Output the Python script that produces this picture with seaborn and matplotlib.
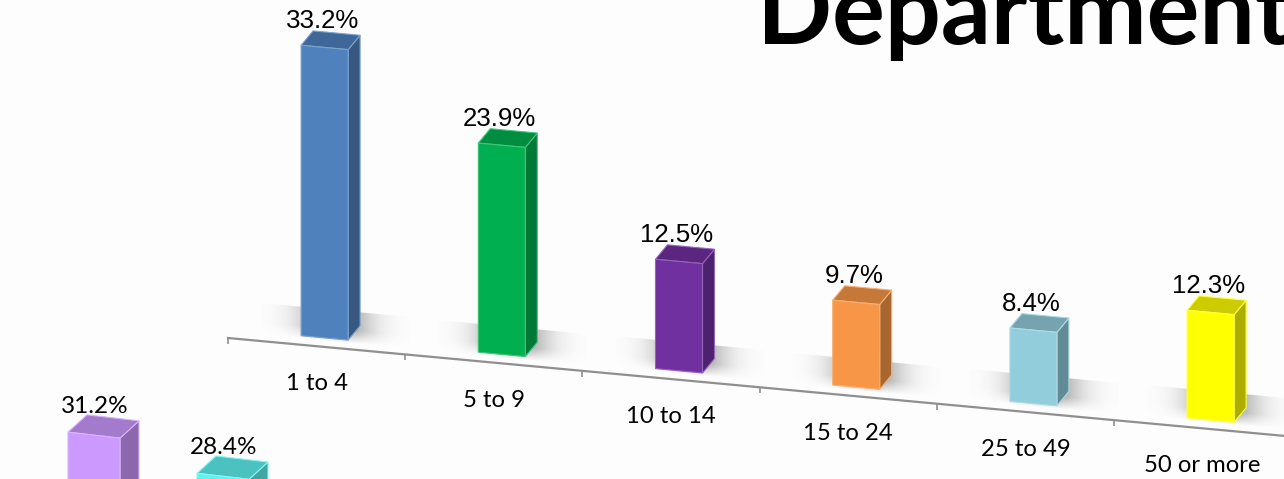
import numpy as np
import pandas as pd
import matplotlib
matplotlib.use("Agg")
import matplotlib.pyplot as plt
from matplotlib.patches import Polygon
from matplotlib.transforms import Affine2D
from matplotlib.colors import to_rgb
import seaborn as sns

# main chart
size_labels = ["1 to 4", "5 to 9", "10 to 14", "15 to 24", "25 to 49", "50 or more"]
size_values = [33.2, 23.9, 12.5, 9.7, 8.4, 12.3]
size_colors = ["#4F81BD", "#00B050", "#7030A0", "#F79646", "#92CDDC", "#FFFF00"]

# second chart, only the tops show at the bottom edge
lower_labels = ["first", "second"]
lower_values = [31.2, 28.4]
lower_colors = ["#CC99FF", "#5FF3F0"]

W, H = 1284, 479

sns.set_theme(style="white")
plt.rcParams["font.family"] = ["Lato", "DejaVu Sans"]

fig = plt.figure(figsize=(W / 100, H / 100), dpi=100, facecolor="#fdfdfd")


def skewed_bars(labels, values, colors, left, step, baseline, scale, slope, bar_px,
                depth, shift, shadow=True):
    """Draw a seaborn bar chart, then shear it so the floor slopes down to the right."""
    top = 40
    ax = fig.add_axes([left / W, 1 - baseline / H, step * len(labels) / W, top * scale / H])
    ax.patch.set_visible(False)
    df = pd.DataFrame({"label": labels, "value": values})
    sns.barplot(data=df, x="label", y="value", hue="label", palette=colors, dodge=False,
                saturation=1, width=bar_px / step, legend=False, ax=ax, zorder=3)
    ax.set_xlim(-0.5, len(labels) - 0.5)
    ax.set_ylim(0, top)
    ax.set_xlabel("")
    ax.set_ylabel("")
    ax.set_yticks([])

    skew = Affine2D(np.array([[1, 0, 0], [-slope, 1, slope * left], [0, 0, 1]]))
    floor_tr = ax.transData + skew
    face_tr = ax.transData + Affine2D().translate(*shift) + skew
    dx, dy = depth[0] / step, depth[1] / scale

    for bar, color in zip(list(ax.patches), colors):
        x0, w, h = bar.get_x(), bar.get_width(), bar.get_height()
        rgb = np.array(to_rgb(color))
        edge = rgb * 0.75 + 0.25
        bar.set_transform(face_tr)
        bar.set_clip_on(False)
        bar.set_edgecolor(edge)
        bar.set_linewidth(0.8)
        side = [(x0 + w, 0), (x0 + w + dx, dy), (x0 + w + dx, h + dy), (x0 + w, h)]
        lid = [(x0, h), (x0 + w, h), (x0 + w + dx, h + dy), (x0 + dx, h + dy)]
        ax.add_patch(Polygon(side, closed=True, fc=rgb * 0.68, ec=edge, lw=0.8,
                             transform=face_tr, clip_on=False, zorder=2.5))
        ax.add_patch(Polygon(lid, closed=True, fc=rgb * 0.8, ec=edge, lw=0.8,
                             transform=face_tr, clip_on=False, zorder=2.5))
        if shadow:
            xs = np.linspace(-1, 1, 120)
            ys = np.linspace(0, 1, 40)
            gx, gy = np.meshgrid(xs, ys)
            alpha = np.exp(-(gx / 0.47) ** 2) * np.clip(gy * 2.4, 0, 1) * 0.72
            rgba = np.zeros(alpha.shape + (4,))
            rgba[..., :3] = 0.42
            rgba[..., 3] = alpha
            mid = x0 + w / 2 + 0.06
            ax.imshow(rgba, extent=(mid - 0.42, mid + 0.42, -0.4, 3.2), origin="lower",
                      aspect="auto", transform=face_tr, clip_on=False, zorder=1)
    ax.set_xlim(-0.5, len(labels) - 0.5)
    ax.set_ylim(0, top)
    return ax, skew, floor_tr, face_tr


ax, skew, floor_tr, face_tr = skewed_bars(size_labels, size_values, size_colors, left=228,
                                          step=177.2, baseline=338, scale=8.75, slope=0.0927,
                                          bar_px=47, depth=(12, 15.5), shift=(8, 9))
sns.despine(ax=ax, left=True)

for i, v in enumerate(size_values):
    ax.annotate(f"{v}%", xy=(i, v), xycoords=face_tr, xytext=(-2.5, 19.5),
                textcoords="offset pixels", ha="center", va="baseline",
                fontsize=18.6, family="Liberation Sans", color="black", zorder=5)

# floor line and ticks follow the same shear
ax.spines["bottom"].set_color("#8f8f8f")
ax.spines["bottom"].set_linewidth(1.6)
ax.spines["bottom"].set_transform(ax.spines["bottom"].get_spine_transform() + skew)
ax.set_xticks(np.arange(len(size_labels) + 1) - 0.5, minor=True)
ax.tick_params(axis="x", which="major", length=0, pad=19.5, labelsize=17.2, labelcolor="black")
ax.tick_params(axis="x", which="minor", length=4, width=1.2, color="#8f8f8f", bottom=True,
               direction="out")
for tick in ax.xaxis.get_major_ticks():
    tick.label1.set_transform(tick.label1.get_transform() + skew)
for tick in ax.xaxis.get_minor_ticks():
    tick.tick1line.set_transform(tick.tick1line.get_transform() + skew)

ax2, skew2, floor2, face2 = skewed_bars(lower_labels, lower_values, lower_colors, left=29.5,
                                        step=129, baseline=721, scale=9.4, slope=0.115,
                                        bar_px=52, depth=(19, 19.5), shift=(0, 0), shadow=False)
ax2.set_xticks([])
sns.despine(ax=ax2, left=True, bottom=True)
for i, v in enumerate(lower_values):
    ax2.annotate(f"{v}%", xy=(i, v), xycoords=face2, xytext=(1, 22),
                 textcoords="offset pixels", ha="center", va="baseline", fontsize=17.5,
                 color="black", zorder=5)

fig.text(757 / W, 1 - 44 / H, "Department", fontsize=71, fontweight="bold", color="black",
         ha="left", va="baseline")

fig.savefig("out.png", dpi=100, facecolor=fig.get_facecolor())
